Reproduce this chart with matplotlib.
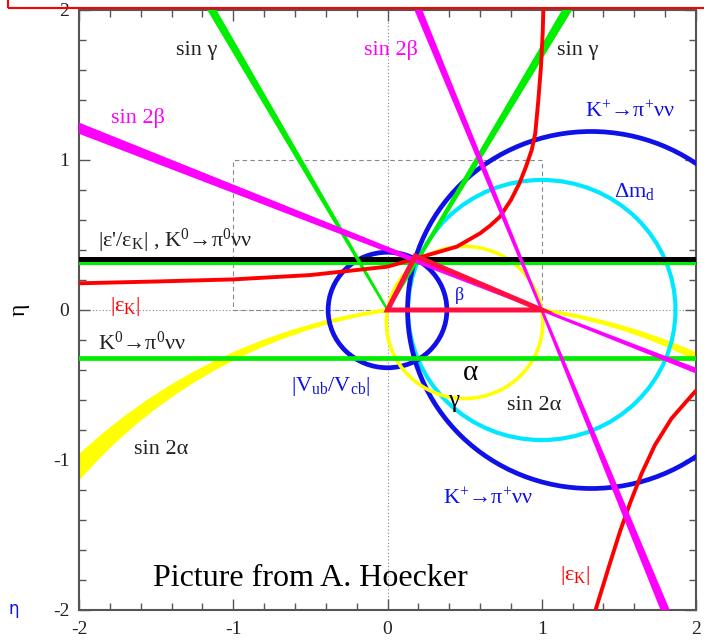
import matplotlib
matplotlib.use("Agg")
import matplotlib.pyplot as plt
from matplotlib.patches import Circle, Wedge, Rectangle, Polygon, PathPatch
from matplotlib.path import Path
from matplotlib.transforms import Affine2D
from matplotlib.ticker import MultipleLocator

plt.rcParams['font.family'] = ['Liberation Serif', 'DejaVu Serif']
plt.rcParams['mathtext.fontset'] = 'custom'
plt.rcParams['mathtext.rm'] = 'Liberation Serif'
plt.rcParams['mathtext.it'] = 'Liberation Serif:italic'
plt.rcParams['axes.unicode_minus'] = False

# ---- data (rho, eta plane) ----
apex = (0.18, 0.36)
triangle = [(0.0, 0.0), (1.0, 0.0), apex]

eps_prime_eta = 0.343      # |e'/eK|, K0->pi0nunu (black)
k0_upper_eta = 0.313       # green band just below
k0_lower_eta = -0.318      # K0->pi0nunu lower

# |eps_K| hyperbola
epsk_up_rho = [-2.0, -1.5, -1.0, -0.5, 0.0, 0.19, 0.449, 0.60, 0.665, 0.729,
               0.80, 0.855, 0.898, 0.935, 0.958, 0.978, 0.995, 1.006, 1.012]
epsk_up_eta = [0.178, 0.19, 0.204, 0.233, 0.289, 0.345, 0.422, 0.511, 0.562,
               0.622, 0.733, 0.844, 0.956, 1.067, 1.178, 1.4, 1.622, 1.844, 2.05]
epsk_lo_rho = [2.02, 1.994, 1.842, 1.734, 1.648, 1.572, 1.507, 1.442, 1.352, 1.345]
epsk_lo_eta = [-0.52, -0.544, -0.722, -0.9, -1.089, -1.289, -1.478, -1.689,
               -1.989, -2.05]

# circles: (center, radius)
vub_circle = ((0.0, 0.0), 0.385)
kplus_circle = ((1.32, 0.0), 1.19)
dmd_circle = ((1.0, 0.0), 0.867)
sin2a_small = ((0.5, -0.083), 0.507)
# big sin2alpha band: circles through (0,0),(1,0), centers at (0.5, k)
sin2a_band_k = [-3.559, -3.235]

# angle bands (center, theta1, theta2) in degrees
singamma_wedges = [((0, 0), 119.2, 120.1), ((0, 0), 59.3, 60.3)]
sin2beta_wedges = [((1, 0), 157.55, 158.45), ((1, 0), 337.55, 338.45),
                   ((1, 0), 111.4, 112.2), ((1, 0), 291.3, 292.3)]

BLUE = '#1010e8'
CYAN = '#00e8ff'
GREEN = '#00ee00'
MAG = '#ff00ff'
YEL = '#ffff00'
RED = '#ff0000'
TXT = '#222222'

labels = [
    ("sin γ", -1.24, 1.73, TXT, 16, 'center'),
    ("sin γ", 1.235, 1.73, TXT, 16, 'center'),
    ("sin 2β", -1.62, 1.28, MAG, 16, 'center'),
    ("sin 2β", 0.02, 1.73, MAG, 16, 'center'),
    ("K$^{+}$→π$^{+}$νν", 1.57, 1.32, BLUE, 16, 'center'),
    ("Δm$_{\\mathrm{d}}$", 1.6, 0.79, BLUE, 16, 'center'),
    ("|ε'/ε$_{\\mathrm{K}}$| , K$^{0}$→π$^{0}$νν", -1.88, 0.46, TXT, 16, 'left'),
    ("|ε$_{\\mathrm{K}}$|", -1.70, 0.02, RED, 16, 'center'),
    ("K$^{0}$→π$^{0}$νν", -1.88, -0.22, TXT, 16, 'left'),
    ("|V$_{\\mathrm{ub}}$/V$_{\\mathrm{cb}}$|", -0.37, -0.51, BLUE, 16, 'center'),
    ("sin 2α", -1.47, -0.93, TXT, 16, 'center'),
    ("β", 0.465, 0.1, BLUE, 13, 'center'),
    ("α", 0.54, -0.42, 'black', 21, 'center'),
    ("γ", 0.43, -0.61, 'black', 18, 'center'),
    ("sin 2α", 0.95, -0.64, TXT, 16, 'center'),
    ("K$^{+}$→π$^{+}$νν", 0.65, -1.26, BLUE, 16, 'center'),
    ("|ε$_{\\mathrm{K}}$|", 1.22, -1.77, RED, 16, 'center'),
    ("Picture from A. Hoecker", -0.5, -1.79, 'black', 23, 'center'),
]

fig = plt.figure(figsize=(7.04, 6.42), dpi=100)
ax = fig.add_axes([79 / 704, 32 / 642, 617 / 704, 600 / 642])
ax.set_xlim(-2, 2)
ax.set_ylim(-2, 2)

# reference lines
ax.axhline(0, color='#888888', ls=(0, (1, 2)), lw=0.8, zorder=1)
ax.axvline(0, color='#888888', ls=(0, (1, 2)), lw=0.8, zorder=1)
ax.add_patch(Rectangle((-1, 0), 2, 1, fill=False, ls=(0, (4, 3)),
                       edgecolor='#888888', lw=0.8, zorder=1))

# big sin 2alpha band (only outside 0<rho<1)
(c_out_k, c_in_k) = sin2a_band_k
r_out = (0.25 + c_out_k ** 2) ** 0.5
r_in = (0.25 + c_in_k ** 2) ** 0.5
p_out = Path.circle((0.5, c_out_k), r_out)
p_in = Path.unit_circle().transformed(Affine2D().scale(r_in, -r_in).translate(0.5, c_in_k))
band_path = Path.make_compound_path(p_out, p_in)
for x0, x1 in [(-2, 0), (1, 2)]:
    pp = PathPatch(band_path, facecolor=YEL, edgecolor=YEL, lw=2.4, zorder=2)
    ax.add_patch(pp)
    clip = Rectangle((x0, -2), x1 - x0, 4, transform=ax.transData)
    pp.set_clip_path(clip)

# circles
for (c, r), col, lw, z in [(dmd_circle, CYAN, 3.0, 3), (kplus_circle, BLUE, 3.4, 3.5),
                           (vub_circle, BLUE, 3.4, 3.5), (sin2a_small, YEL, 2.6, 3.6)]:
    ax.add_patch(Circle(c, r, fill=False, edgecolor=col, lw=lw, zorder=z))

# horizontal bands
ax.axhline(k0_upper_eta, color=GREEN, lw=3.0, zorder=4)
ax.axhline(eps_prime_eta, color='black', lw=3.6, zorder=4)
ax.axhline(k0_lower_eta, color=GREEN, lw=3.4, zorder=4)

# sin gamma wedges
for c, t1, t2 in singamma_wedges:
    ax.add_patch(Wedge(c, 4, t1, t2, facecolor=GREEN, edgecolor=GREEN, lw=1.8, zorder=4.5))

# eps_K
ax.plot(epsk_up_rho, epsk_up_eta, color=RED, lw=2.8, zorder=5, solid_joinstyle='round')
ax.plot(epsk_lo_rho, epsk_lo_eta, color=RED, lw=2.8, zorder=5, solid_joinstyle='round')

# sin 2beta wedges
for c, t1, t2 in sin2beta_wedges:
    ax.add_patch(Wedge(c, 4, t1, t2, facecolor=MAG, edgecolor=MAG, lw=2.0, zorder=5.5))

# unitarity triangle
ax.add_patch(Polygon(triangle, closed=True, fill=False, edgecolor='#ff1040',
                     lw=3.6, joinstyle='miter', zorder=6))

for s, x, y, col, fs, ha in labels:
    ax.text(x, y, s, color=col, fontsize=fs, ha=ha, va='center', zorder=7)

# axes styling
ax.xaxis.set_major_locator(MultipleLocator(1))
ax.yaxis.set_major_locator(MultipleLocator(1))
ax.xaxis.set_minor_locator(MultipleLocator(0.2))
ax.yaxis.set_minor_locator(MultipleLocator(0.2))
ax.tick_params(which='both', direction='in', top=True, right=True,
               color='#555555', labelsize=14, labelcolor='#222222')
ax.tick_params(which='major', length=8, width=1)
ax.tick_params(which='minor', length=5, width=1)
ax.tick_params(axis='x', pad=8)
ax.tick_params(axis='y', pad=7)
for sp in ax.spines.values():
    sp.set_color('#555555')
    sp.set_linewidth(1.5)

fig.text(19 / 704, 1 - 310 / 642, 'η', rotation=90, fontsize=17,
         ha='center', va='center')
fig.text(14 / 704, 1 - 609 / 642, 'η', color=BLUE, fontsize=12,
         family='DejaVu Sans', ha='center', va='center')
fig.add_artist(Rectangle((8 / 704, 1 - 8 / 642), 1.0, 0.1, transform=fig.transFigure,
                         fill=False, edgecolor='red', lw=1.5))

fig.savefig('out.png', dpi=100)
